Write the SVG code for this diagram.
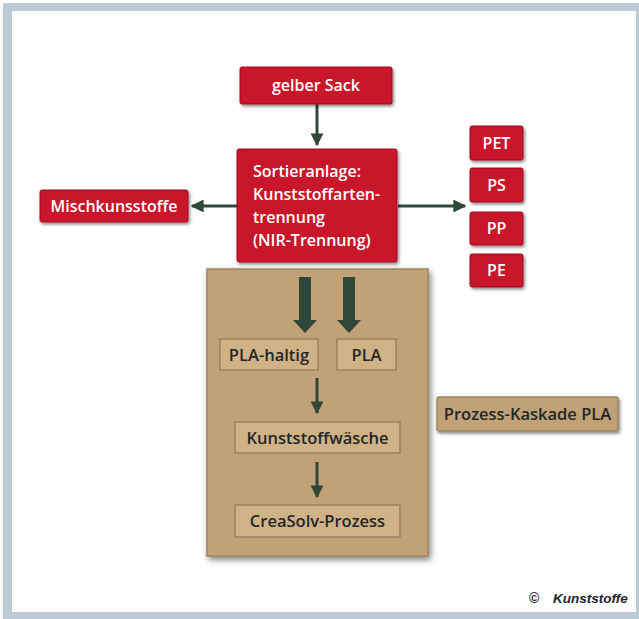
<svg xmlns="http://www.w3.org/2000/svg" width="639" height="619" viewBox="0 0 639 619">
<defs>
<filter id="sh" x="-20%" y="-20%" width="150%" height="160%">
<feDropShadow dx="1.5" dy="2" stdDeviation="1.8" flood-color="#000" flood-opacity="0.45"/>
</filter>
<filter id="shb" x="-10%" y="-10%" width="120%" height="120%">
<feDropShadow dx="2" dy="3" stdDeviation="3" flood-color="#000" flood-opacity="0.5"/>
</filter>
<marker id="ah" viewBox="0 0 10 10" refX="9" refY="5" markerWidth="4.3" markerHeight="4.3" markerUnits="strokeWidth" orient="auto">
<path d="M0,0 L10,5 L0,10 Z" fill="#2f4638"/>
</marker>
</defs>
<style>
.red{fill:#c8142b;stroke:#a80f22;stroke-width:1}
.tan{fill:#c0a276;stroke:#9e8460;stroke-width:1.5}
.in{fill:#d0b287;stroke:#9a8160;stroke-width:1.5}
.wt{font-family:"Open Sans","Noto Sans",sans-serif;font-weight:600;font-size:16px;fill:#ffffff}
.dt{font-family:"Open Sans","Noto Sans",sans-serif;font-weight:600;font-size:16.5px;fill:#23262a}
.ln{stroke:#2f4638;stroke-width:3;fill:none}
</style>
<rect x="0" y="0" width="639" height="619" fill="#ffffff"/>
<rect x="3" y="3" width="636" height="616" fill="#bccbd3"/>
<rect x="12" y="11" width="624" height="601" fill="#ffffff"/>

<g id="prozess-kaskade-box">
<rect class="tan" x="207" y="269" width="221" height="287" filter="url(#shb)"/>
</g>

<g id="connectors">
<line class="ln" x1="317" y1="104" x2="317" y2="145" marker-end="url(#ah)"/>
<line class="ln" x1="237" y1="206" x2="192" y2="206" marker-end="url(#ah)"/>
<line class="ln" x1="398" y1="206" x2="465" y2="206" marker-end="url(#ah)"/>
<path d="M299,277 H311 V320 H317 L305,333 L293,320 H299 Z" fill="#2f4638"/>
<path d="M343,277 H355 V320 H361 L349,333 L337,320 H343 Z" fill="#2f4638"/>
<line class="ln" x1="317" y1="378" x2="317" y2="413" marker-end="url(#ah)"/>
<line class="ln" x1="317" y1="462" x2="317" y2="497" marker-end="url(#ah)"/>
</g>

<g id="gelber-sack">
<rect class="red" x="240" y="67" width="152" height="37" rx="2" filter="url(#sh)"/>
<text class="wt" x="316" y="91" text-anchor="middle">gelber Sack</text>
</g>

<g id="sortieranlage">
<rect class="red" x="237" y="149" width="160" height="113" rx="2" filter="url(#sh)"/>
<text class="wt" x="253" y="177">Sortieranlage:</text>
<text class="wt" x="253" y="200">Kunststoffarten-</text>
<text class="wt" x="253" y="223">trennung</text>
<text class="wt" x="253" y="246">(NIR-Trennung)</text>
</g>

<g id="mischkunststoffe">
<rect class="red" x="40" y="190" width="148" height="32" rx="2" filter="url(#sh)"/>
<text class="wt" x="114" y="212" text-anchor="middle">Mischkunsstoffe</text>
</g>

<g id="pet">
<rect class="red" x="470" y="126" width="53" height="34" rx="2" filter="url(#sh)"/>
<text class="wt" x="496.5" y="149" text-anchor="middle">PET</text>
</g>
<g id="ps">
<rect class="red" x="470" y="168" width="53" height="34" rx="2" filter="url(#sh)"/>
<text class="wt" x="496.5" y="191" text-anchor="middle">PS</text>
</g>
<g id="pp">
<rect class="red" x="470" y="212" width="53" height="33" rx="2" filter="url(#sh)"/>
<text class="wt" x="496.5" y="234" text-anchor="middle">PP</text>
</g>
<g id="pe">
<rect class="red" x="470" y="254" width="53" height="33" rx="2" filter="url(#sh)"/>
<text class="wt" x="496.5" y="276" text-anchor="middle">PE</text>
</g>

<g id="pla-haltig">
<rect class="in" x="220" y="339" width="98" height="31"/>
<text class="dt" x="269" y="361" text-anchor="middle">PLA-haltig</text>
</g>
<g id="pla">
<rect class="in" x="337" y="339" width="59" height="31"/>
<text class="dt" x="366.5" y="361" text-anchor="middle">PLA</text>
</g>
<g id="kunststoffwaesche">
<rect class="in" x="235" y="422" width="165" height="31"/>
<text class="dt" x="317.5" y="444" text-anchor="middle">Kunststoffwäsche</text>
</g>
<g id="creasolv">
<rect class="in" x="235" y="505" width="165" height="32"/>
<text class="dt" x="317.5" y="527" text-anchor="middle">CreaSolv-Prozess</text>
</g>

<g id="prozess-kaskade-pla">
<rect class="tan" x="437" y="397" width="181" height="34" rx="2" filter="url(#sh)"/>
<text class="dt" x="527.5" y="420" text-anchor="middle">Prozess-Kaskade PLA</text>
</g>

<g id="copyright">
<text x="529" y="603" font-family="Liberation Sans, Arial, sans-serif" font-size="14" font-weight="bold" fill="#2a2f3a">©</text>
<text x="553" y="603" font-family="Liberation Sans, Arial, sans-serif" font-size="13.5" font-weight="bold" font-style="italic" fill="#1f2430">Kunststoffe</text>
</g>
</svg>
